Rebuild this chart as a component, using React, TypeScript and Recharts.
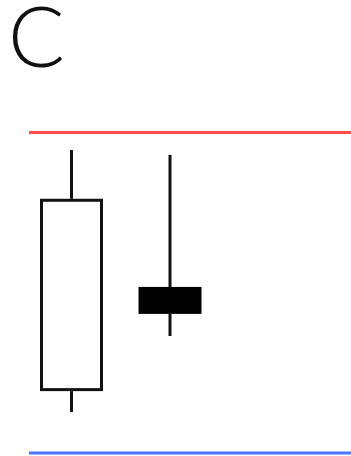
import React from "react";
import { ComposedChart, Bar, XAxis, YAxis, ReferenceLine } from "recharts";

// two candles (price units: support = 0, resistance = 100)
const days = ["Day 1", "Day 2"];
const opens = [19.3, 51.8];
const closes = [79.3, 43.4];
const highs = [94.5, 93.0];
const lows = [12.8, 36.5];
const resistance = 100;
const support = 0;

const data = days.map((day, i) => ({
  day,
  open: opens[i],
  close: closes[i],
  high: highs[i],
  low: lows[i],
  range: [lows[i], highs[i]],
}));

const Candle = (props: any) => {
  const { x, y, width, height, payload } = props;
  if (height == null || !payload) return null;
  const { open, close, high, low } = payload;
  const py = (v: number) => y + ((high - v) / (high - low)) * height;
  const cx = x + width / 2;
  const top = py(Math.max(open, close));
  const bottom = py(Math.min(open, close));
  const up = close >= open;
  return (
    <g>
      <line x1={cx} x2={cx} y1={py(high)} y2={top} stroke="#111" strokeWidth={3} />
      <line x1={cx} x2={cx} y1={bottom} y2={py(low)} stroke="#111" strokeWidth={3} />
      {up ? (
        <rect
          x={x + 1.5}
          y={top + 1.5}
          width={width - 3}
          height={bottom - top - 3}
          fill="#fff"
          stroke="#111"
          strokeWidth={3}
        />
      ) : (
        <rect x={x} y={top} width={width} height={bottom - top} fill="#000" />
      )}
    </g>
  );
};

export default function App() {
  return (
    <div style={{ position: "absolute", left: 0, top: 0, width: 351, height: 456, background: "#fff" }}>
      <svg width={351} height={100} style={{ position: "absolute", left: 0, top: 0 }}>
        <text
          x={8}
          y={66.5}
          fontFamily="Lato, sans-serif"
          fontWeight={300}
          fontSize={84}
          fill="#111"
        >
          C
        </text>
      </svg>
      <ComposedChart
        width={351}
        height={456}
        data={data}
        margin={{ top: 0, right: 0, bottom: 3, left: 29 }}
        style={{ position: "absolute", left: 0, top: 0 }}
      >
        <XAxis dataKey="day" hide padding={{ left: -7, right: 132 }} />
        <YAxis hide domain={[0, 141.3]} />
        <ReferenceLine y={resistance} stroke="#ff4d4d" strokeWidth={3} />
        <ReferenceLine y={support} stroke="#4b74ff" strokeWidth={3} />
        <Bar dataKey="range" barSize={63} shape={<Candle />} isAnimationActive={false} />
      </ComposedChart>
    </div>
  );
}
